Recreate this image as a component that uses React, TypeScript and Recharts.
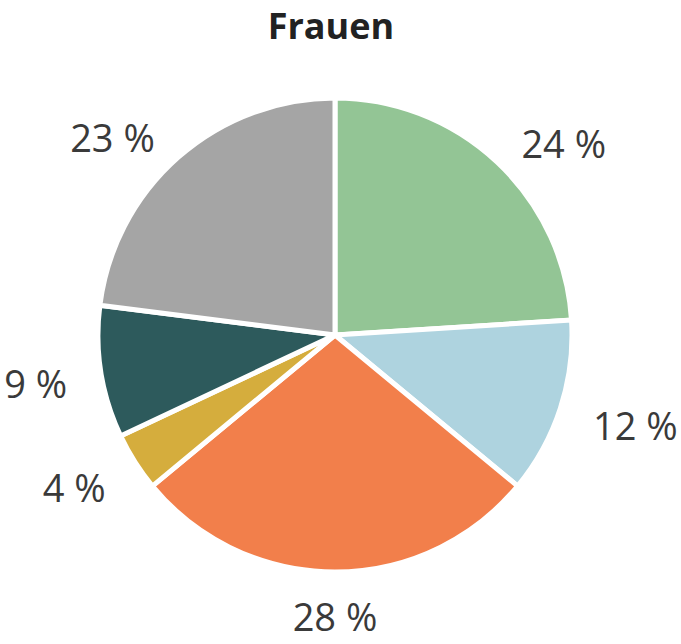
import { PieChart, Pie, Cell } from "recharts";

const categories = ["A", "B", "C", "D", "E", "F"];
const shares = [24, 12, 28, 4, 9, 23];
const colors = ["#93c595", "#aed3df", "#f27f4b", "#d5ad3d", "#2d5a5c", "#a5a5a5"];
const title = "Frauen";

const data = categories.map((name, i) => ({ name, value: shares[i] }));

const RAD = Math.PI / 180;

function renderLabel(props: any) {
  const { cx, cy, midAngle, outerRadius, value } = props;
  const cos = Math.cos(-midAngle * RAD);
  const sin = Math.sin(-midAngle * RAD);
  const r = outerRadius + 34 + (1 - Math.abs(cos)) * 4;
  const x = cx + r * cos;
  const y = cy + r * sin + 6;
  const anchor = cos > 0.1 ? "start" : cos < -0.1 ? "end" : "middle";
  return (
    <text
      x={x}
      y={y}
      textAnchor={anchor}
      dominantBaseline="central"
      fill="#3a3a3a"
      fontSize={38}
      fontFamily="'Open Sans', sans-serif"
    >
      {`${value} %`}
    </text>
  );
}

export default function App() {
  return (
    <div style={{ position: "absolute", left: 0, top: 0, width: 681, height: 644, background: "#fff" }}>
      <div
        style={{
          position: "absolute",
          left: 0,
          top: 1,
          width: 662,
          textAlign: "center",
          fontFamily: "'Open Sans', sans-serif",
          fontWeight: 700,
          fontSize: 36,
          color: "#222",
        }}
      >
        {title}
      </div>
      <PieChart width={681} height={644}>
        <Pie
          data={data}
          dataKey="value"
          cx={330}
          cy={330}
          outerRadius={237}
          startAngle={90}
          endAngle={-270}
          stroke="#fff"
          strokeWidth={5}
          label={renderLabel}
          labelLine={false}
          isAnimationActive={false}
        >
          {data.map((d, i) => (
            <Cell key={d.name} fill={colors[i]} />
          ))}
        </Pie>
      </PieChart>
    </div>
  );
}
